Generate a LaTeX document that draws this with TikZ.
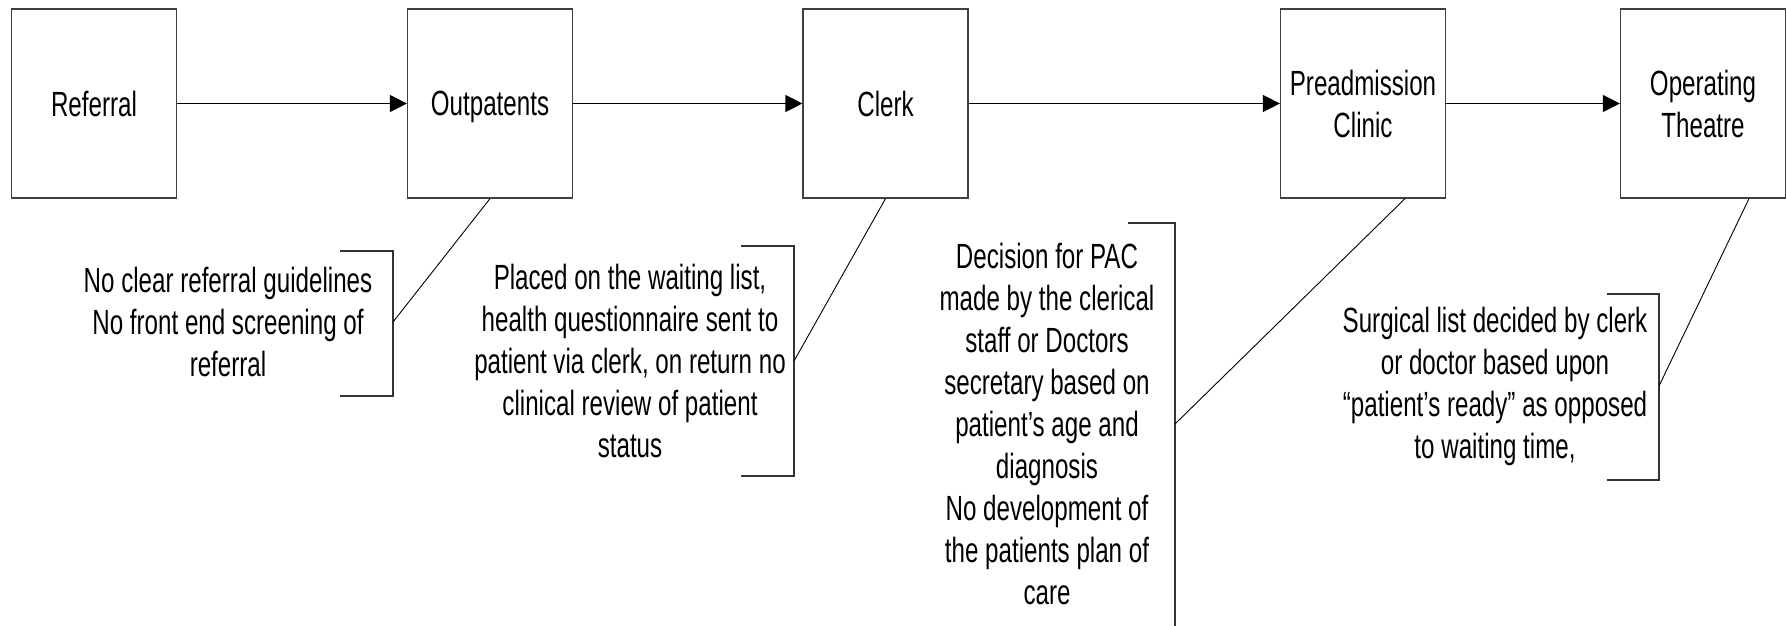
\documentclass[tikz,border=0pt]{standalone}
\usepackage{fontspec}
\setmainfont[FakeStretch=0.69]{Liberation Sans}
\usepackage{tikz}
\usetikzlibrary{arrows.meta}

\begin{document}
\begin{tikzpicture}[x=1pt,y=1pt]
        \tikzstyle{main node}=[draw=black!75,line width=1.2pt,minimum width=165pt,minimum height=189pt,align=center,inner sep=0pt,text depth=0pt,font=\fontsize{35}{42}\selectfont]
        \tikzstyle{note node}=[align=center,inner sep=0pt,font=\fontsize{35}{42}\selectfont]
        \tikzstyle{flow}=[line width=1.2pt,-{Triangle[length=17pt,width=17pt]}]
        \tikzstyle{bracket}=[line width=1.4pt,draw=black!80]
        \tikzstyle{leader}=[line width=0.9pt]
        \useasboundingbox (0,0) rectangle (1787,-625);
        \node[main node] (Referral) at (94,-103.5) {Referral};
        \node[main node] (Outpatents) [right of=Referral,node distance=396pt] {Outpatents};
        \node[main node] (Clerk) [right of=Outpatents,node distance=395.5pt] {Clerk};
        \node[main node] (Preadmission) [right of=Clerk,node distance=477.5pt] {Preadmission\\Clinic};
        \node[main node] (Theatre) [right of=Preadmission,node distance=340pt] {Operating\\Theatre};
        \draw[flow] (Referral) -- (Outpatents);
        \draw[flow] (Outpatents) -- (Clerk);
        \draw[flow] (Clerk) -- (Preadmission);
        \draw[flow] (Preadmission) -- (Theatre);
        % notes under the stages
        \node[note node] (RefNote) at (228,-322) {No clear referral guidelines\\No front end screening of\\referral};
        \coordinate (RefTip) at (393,-322);
        \draw[bracket] (340,-251) -| (RefTip) |- (340,-396);
        \draw[leader] (RefTip) -- (Outpatents.south);
        \node[note node] (OutNote) at (630,-361) {Placed on the waiting list,\\health questionnaire sent to\\patient via clerk, on return no\\clinical review of patient\\status};
        \coordinate (OutTip) at (794,-361);
        \draw[bracket] (741,-246) -| (OutTip) |- (741,-476);
        \draw[leader] (OutTip) -- (Clerk.south);
        \node[note node] (ClerkNote) at (1047,-424) {Decision for PAC\\made by the clerical\\staff or Doctors\\secretary based on\\patient’s age and\\diagnosis\\No development of\\the patients plan of\\care};
        \coordinate (ClerkTip) at (1175,-424);
        \draw[bracket] (1128,-223) -| (ClerkTip) -- (1175,-640);
        \draw[leader] (ClerkTip) -- ([xshift=42pt]Preadmission.south);
        \node[note node] (PacNote) at (1495,-386) {Surgical list decided by clerk\\or doctor based upon\\“patient’s ready” as opposed\\to waiting time,};
        \coordinate (PacTip) at (1659,-386);
        \draw[bracket] (1607,-294) -| (PacTip) |- (1607,-480);
        \draw[leader] (PacTip) -- ([xshift=46pt]Theatre.south);
\end{tikzpicture}
\end{document}
